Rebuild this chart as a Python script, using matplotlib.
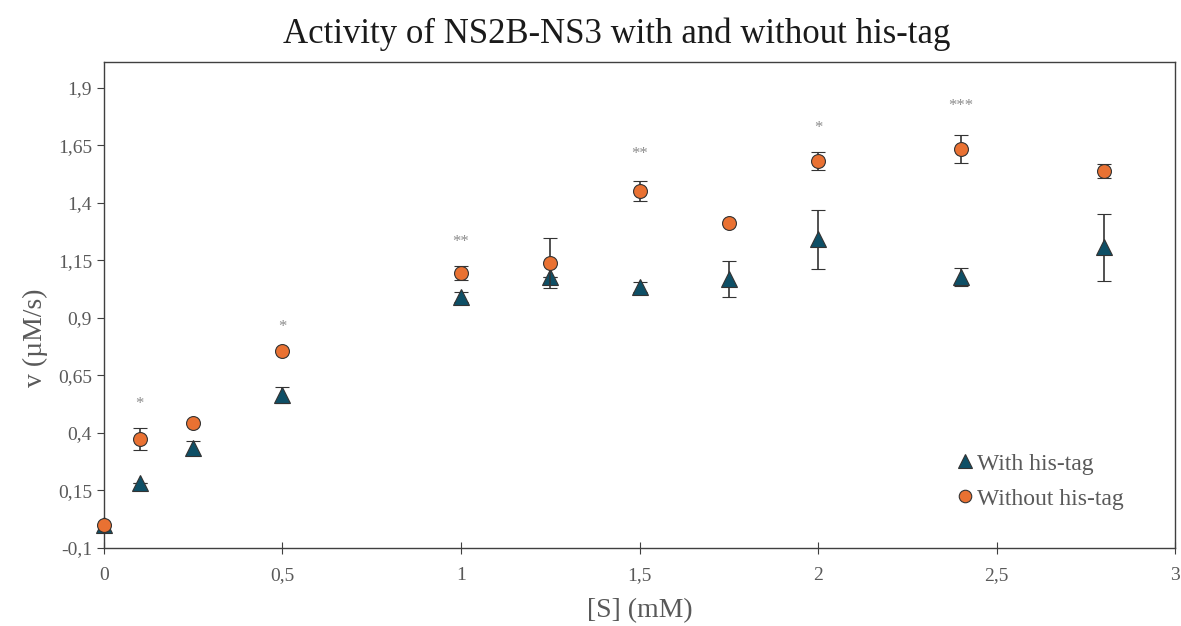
import matplotlib
matplotlib.use("Agg")
import matplotlib.pyplot as plt
from matplotlib.lines import Line2D
from matplotlib.ticker import FuncFormatter

# substrate concentrations (mM)
s_conc = [0, 0.1, 0.25, 0.5, 1, 1.25, 1.5, 1.75, 2, 2.4, 2.8]

# rates (uM/s) with his-tag
v_with = [0.0, 0.183, 0.335, 0.565, 0.991, 1.078, 1.035, 1.07, 1.243, 1.078, 1.207]
err_with = [0.0, 0.0, 0.03, 0.035, 0.02, 0.0, 0.02, 0.078, 0.128, 0.04, 0.146]

# rates (uM/s) without his-tag
v_without = [0.0, 0.374, 0.443, 0.757, 1.096, 1.139, 1.452, 1.313, 1.583, 1.635, 1.539]
err_without = [0.0, 0.046, 0.0, 0.0, 0.03, 0.109, 0.045, 0.0, 0.039, 0.061, 0.03]

# significance marks
sig_x = [0.1, 0.5, 1, 1.5, 2, 2.4]
sig_y = [0.526, 0.86, 1.23, 1.613, 1.726, 1.822]
sig_text = ["*", "*", "**", "**", "*", "***"]

yticks = [-0.1, 0.15, 0.4, 0.65, 0.9, 1.15, 1.4, 1.65, 1.9]
xticks = [0, 0.5, 1, 1.5, 2, 2.5, 3]

plt.rcParams['font.family'] = ['Liberation Serif', 'DejaVu Serif']
gray = '#595959'
teal = '#0E4F66'
orange = '#E97132'
edge = '#333333'

fig = plt.figure(figsize=(11.81, 6.26), dpi=100)
ax = fig.add_axes([0.088, 0.1246, 0.907, 0.7764])

ax.errorbar(s_conc, v_with, yerr=err_with, fmt='^', color=teal,
            markersize=11, markeredgecolor=edge, markeredgewidth=0.8,
            ecolor=edge, elinewidth=1.2, capsize=5, capthick=1.2,
            zorder=3, clip_on=False)
ax.errorbar(s_conc, v_without, yerr=err_without, fmt='o', color=orange,
            markersize=10, markeredgecolor=edge, markeredgewidth=0.8,
            ecolor=edge, elinewidth=1.2, capsize=5, capthick=1.2,
            zorder=4, clip_on=False)

# significance stars
for x, y, t in zip(sig_x, sig_y, sig_text):
    ax.text(x, y, t, ha='center', va='center', fontsize=12, color='#8c8c8c')

ax.set_xlim(0, 3)
ax.set_ylim(-0.1, 2.013)
ax.set_xticks(xticks)
ax.set_yticks(yticks)
comma = FuncFormatter(lambda v, p: ('%g' % round(v, 2)).replace('.', ','))
ax.xaxis.set_major_formatter(comma)
ax.yaxis.set_major_formatter(comma)
ax.tick_params(axis='x', direction='inout', length=8, labelsize=14, pad=10)
ax.tick_params(axis='y', direction='out', length=5, labelsize=14)
ax.tick_params(axis='both', color='#404040', labelcolor=gray)
for sp in ax.spines.values():
    sp.set_color('#404040')
    sp.set_linewidth(1)

ax.set_xlabel('[S] (mM)', fontsize=20, color=gray, labelpad=10)
ax.set_ylabel('v (µM/s)', fontsize=20, color=gray)
ax.yaxis.set_label_coords(-0.052, 0.432)
fig.text(617 / 1181, 1 - 34 / 626, 'Activity of NS2B-NS3 with and without his-tag',
         fontsize=25, color='#1a1a1a', ha='center', va='center')

handles = [
    Line2D([], [], ls='none', marker='^', color=teal, markersize=10,
           markeredgecolor=edge, markeredgewidth=0.8, label='With his-tag'),
    Line2D([], [], ls='none', marker='o', color=orange, markersize=9,
           markeredgecolor=edge, markeredgewidth=0.8, label='Without his-tag'),
]
leg = ax.legend(handles=handles, loc='lower right', bbox_to_anchor=(0.972, 0.035),
                frameon=False, fontsize=17, handletextpad=0.0, labelspacing=0.58,
                handlelength=1.0)
for t in leg.get_texts():
    t.set_color(gray)

fig.savefig('out.png', dpi=100)
